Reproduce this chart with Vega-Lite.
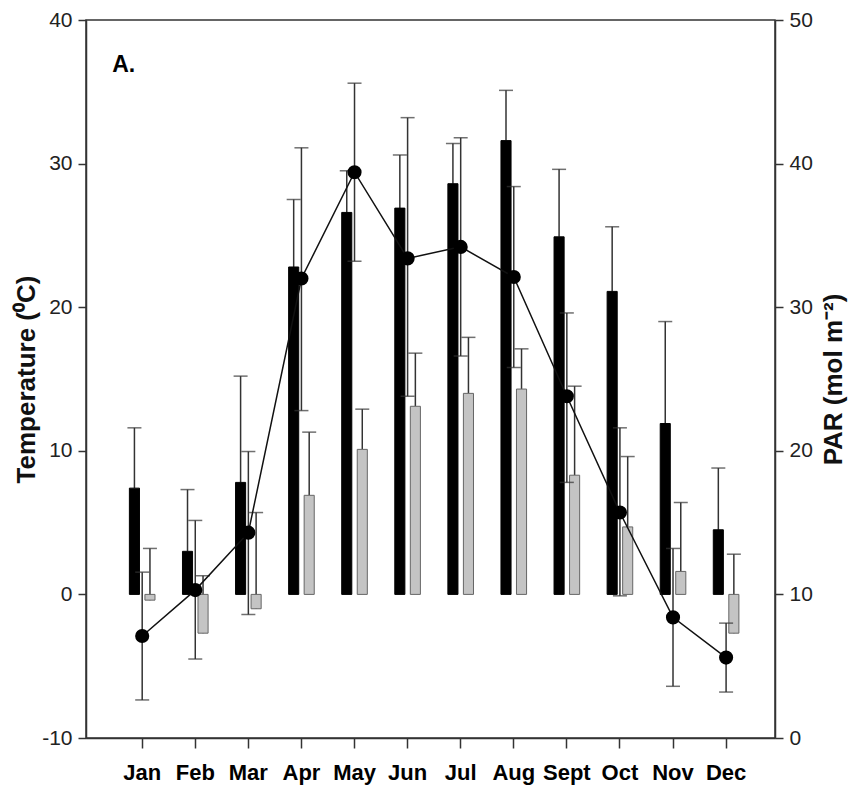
{
  "$schema": "https://vega.github.io/schema/vega-lite/v6.json",
  "width": 689,
  "height": 718,
  "autosize": {"type": "none"},
  "padding": {"left": 86, "top": 20, "right": 83, "bottom": 69},
  "background": "white",
  "config": {
    "view": {"stroke": "#333", "strokeWidth": 1.5},
    "axis": {
      "grid": false,
      "domainColor": "#333",
      "domainWidth": 1.5,
      "tickColor": "#333",
      "tickWidth": 1.5,
      "tickSize": 8,
      "labelColor": "#222",
      "labelFont": "Liberation Sans",
      "labelFontSize": 21,
      "labelPadding": 6,
      "titleFont": "Liberation Sans",
      "titleFontSize": 26,
      "titleFontWeight": "bold",
      "titleColor": "#111"
    }
  },
  "datasets": {
    "temp": [
      {"month": "Jan", "series": "Tmax", "value": 7.4, "upper": 11.6},
      {"month": "Jan", "series": "Tmin", "value": -0.4, "upper": 3.2},
      {"month": "Feb", "series": "Tmax", "value": 3.0, "upper": 7.3},
      {"month": "Feb", "series": "Tmin", "value": -2.7, "upper": 1.3},
      {"month": "Mar", "series": "Tmax", "value": 7.8, "upper": 15.2},
      {"month": "Mar", "series": "Tmin", "value": -1.0, "upper": 5.7},
      {"month": "Apr", "series": "Tmax", "value": 22.8, "upper": 27.5},
      {"month": "Apr", "series": "Tmin", "value": 6.9, "upper": 11.3},
      {"month": "May", "series": "Tmax", "value": 26.6, "upper": 29.5},
      {"month": "May", "series": "Tmin", "value": 10.1, "upper": 12.9},
      {"month": "Jun", "series": "Tmax", "value": 26.9, "upper": 30.6},
      {"month": "Jun", "series": "Tmin", "value": 13.1, "upper": 16.8},
      {"month": "Jul", "series": "Tmax", "value": 28.6, "upper": 31.4},
      {"month": "Jul", "series": "Tmin", "value": 14.0, "upper": 17.9},
      {"month": "Aug", "series": "Tmax", "value": 31.6, "upper": 35.1},
      {"month": "Aug", "series": "Tmin", "value": 14.3, "upper": 17.1},
      {"month": "Sept", "series": "Tmax", "value": 24.9, "upper": 29.6},
      {"month": "Sept", "series": "Tmin", "value": 8.3, "upper": 14.5},
      {"month": "Oct", "series": "Tmax", "value": 21.1, "upper": 25.6},
      {"month": "Oct", "series": "Tmin", "value": 4.7, "upper": 9.6},
      {"month": "Nov", "series": "Tmax", "value": 11.9, "upper": 19.0},
      {"month": "Nov", "series": "Tmin", "value": 1.6, "upper": 6.4},
      {"month": "Dec", "series": "Tmax", "value": 4.5, "upper": 8.8},
      {"month": "Dec", "series": "Tmin", "value": -2.7, "upper": 2.8}
    ],
    "par": [
      {"month": "Jan", "par": 7.1, "lo": 2.65, "hi": 11.55},
      {"month": "Feb", "par": 10.3, "lo": 5.5, "hi": 15.15},
      {"month": "Mar", "par": 14.3, "lo": 8.6, "hi": 19.95},
      {"month": "Apr", "par": 32.0, "lo": 22.8, "hi": 41.1},
      {"month": "May", "par": 39.4, "lo": 33.2, "hi": 45.6},
      {"month": "Jun", "par": 33.4, "lo": 23.8, "hi": 43.2},
      {"month": "Jul", "par": 34.2, "lo": 26.6, "hi": 41.8},
      {"month": "Aug", "par": 32.1, "lo": 25.8, "hi": 38.4},
      {"month": "Sept", "par": 23.8, "lo": 17.8, "hi": 29.6},
      {"month": "Oct", "par": 15.7, "lo": 9.9, "hi": 21.6},
      {"month": "Nov", "par": 8.4, "lo": 3.6, "hi": 13.2},
      {"month": "Dec", "par": 5.6, "lo": 3.2, "hi": 8.0}
    ],
    "label": [{"text": "A."}]
  },
  "layer": [
    {
      "data": {"name": "temp"},
      "encoding": {
        "x": {
          "field": "month",
          "type": "nominal",
          "sort": ["Jan","Feb","Mar","Apr","May","Jun","Jul","Aug","Sept","Oct","Nov","Dec"],
          "scale": {"type": "band", "domain": ["Jan","Feb","Mar","Apr","May","Jun","Jul","Aug","Sept","Oct","Nov","Dec"], "paddingInner": 0, "paddingOuter": 0.49, "align": 0.57},
          "axis": {
            "title": null,
            "labelAngle": 0,
            "labelFont": "Liberation Sans",
            "labelFontSize": 22,
            "labelFontWeight": "bold",
            "labelColor": "#000",
            "tickSize": 10,
            "labelPadding": 14
          }
        }
      },
      "layer": [
        {
          "mark": {"type": "rule", "strokeWidth": 1.5, "color": "#333"},
          "encoding": {
            "xOffset": {"field": "series", "type": "nominal", "scale": {"domain": ["Tmax","Tmin"], "paddingInner": 0.35, "paddingOuter": 0.885}},
            "y": {"field": "value", "type": "quantitative", "scale": {"domain": [-10, 40]}},
            "y2": {"field": "upper"}
          }
        },
        {
          "mark": {"type": "tick", "orient": "horizontal", "size": 14, "thickness": 1.5, "color": "#333"},
          "encoding": {
            "xOffset": {"field": "series", "type": "nominal", "scale": {"domain": ["Tmax","Tmin"], "paddingInner": 0.35, "paddingOuter": 0.885}},
            "y": {"field": "upper", "type": "quantitative"}
          }
        },
        {
          "mark": {"type": "bar", "strokeWidth": 1},
          "encoding": {
            "xOffset": {"field": "series", "type": "nominal", "scale": {"domain": ["Tmax","Tmin"], "paddingInner": 0.35, "paddingOuter": 0.885}},
            "y": {
              "field": "value",
              "type": "quantitative",
              "scale": {"domain": [-10, 40]},
              "axis": {"values": [-10, 0, 10, 20, 30, 40], "labelExpr": "replace(datum.label, '−', '-')", "title": "Temperature (⁰C)", "titlePadding": 2}
            },
            "color": {"field": "series", "type": "nominal", "scale": {"domain": ["Tmax","Tmin"], "range": ["#000000", "#c4c4c4"]}, "legend": null},
            "stroke": {"field": "series", "type": "nominal", "scale": {"domain": ["Tmax","Tmin"], "range": ["#000000", "#666666"]}, "legend": null}
          }
        },
        {
          "mark": {"type": "rule", "color": "#000", "strokeWidth": 1.5},
          "encoding": {"y": {"datum": 0}}
        },
        {
          "data": {"name": "label"},
          "mark": {"type": "text", "align": "left", "baseline": "alphabetic", "dx": -30, "fontSize": 23, "fontWeight": "bold", "font": "Liberation Sans", "color": "#000"},
          "encoding": {
            "x": {"datum": "Jan"},
            "y": {"datum": 36.4},
            "text": {"field": "text"}
          }
        }
      ]
    },
    {
      "data": {"name": "par"},
      "encoding": {
        "x": {
          "field": "month",
          "type": "nominal",
          "sort": ["Jan","Feb","Mar","Apr","May","Jun","Jul","Aug","Sept","Oct","Nov","Dec"]
        }
      },
      "layer": [
        {
          "mark": {"type": "rule", "strokeWidth": 1.5, "color": "#333"},
          "encoding": {
            "y": {"field": "lo", "type": "quantitative", "scale": {"domain": [0, 50]}},
            "y2": {"field": "hi"}
          }
        },
        {
          "mark": {"type": "tick", "orient": "horizontal", "size": 14, "thickness": 1.5, "color": "#333"},
          "encoding": {"y": {"field": "lo", "type": "quantitative"}}
        },
        {
          "mark": {"type": "tick", "orient": "horizontal", "size": 14, "thickness": 1.5, "color": "#333"},
          "encoding": {"y": {"field": "hi", "type": "quantitative"}}
        },
        {
          "mark": {"type": "line", "color": "#111", "strokeWidth": 1.5},
          "encoding": {"y": {"field": "par", "type": "quantitative"}}
        },
        {
          "mark": {"type": "point", "filled": true, "shape": "circle", "size": 200, "color": "#000", "opacity": 1},
          "encoding": {
            "y": {
              "field": "par",
              "type": "quantitative",
              "scale": {"domain": [0, 50]},
              "axis": {"orient": "right", "values": [0, 10, 20, 30, 40, 50], "title": "PAR (mol m⁻²)", "titleAngle": 270, "titleBaseline": "top", "titlePadding": 8}
            }
          }
        }
      ]
    }
  ],
  "resolve": {"scale": {"y": "independent"}}
}
